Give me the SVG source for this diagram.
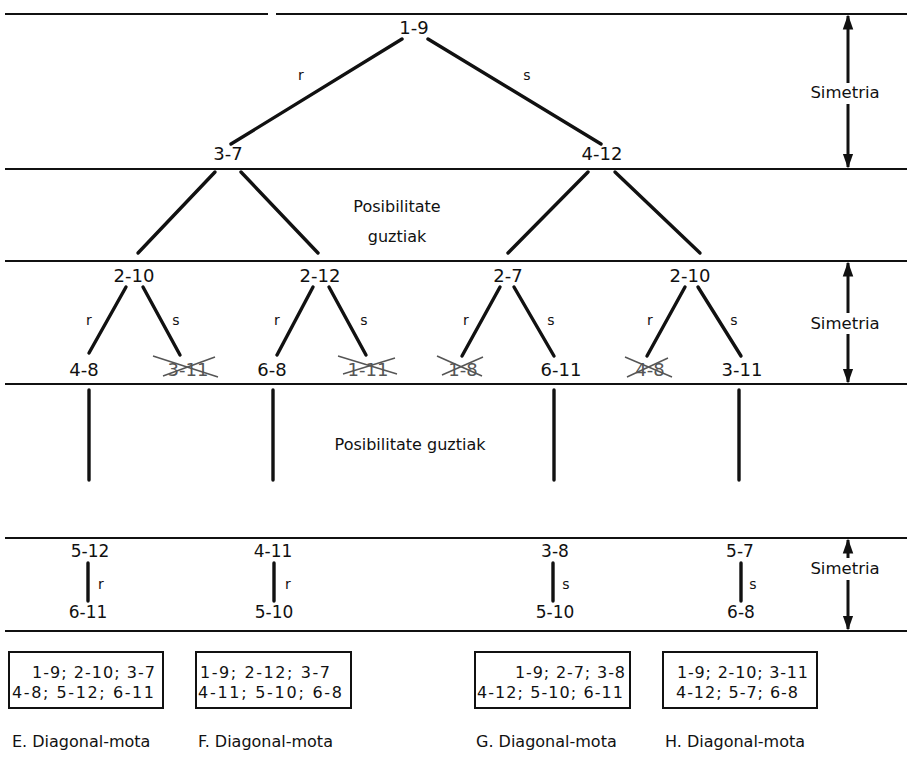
<svg xmlns="http://www.w3.org/2000/svg" width="907" height="759" viewBox="0 0 907 759">
  <style>
    .rule { stroke: #111; stroke-width: 2; }
    .edge { stroke: #111; stroke-width: 3.4; stroke-linecap: round; }
    .arr { stroke: #111; stroke-width: 3; }
    .cross { stroke: #555; stroke-width: 1.4; }
    text { font-family: "DejaVu Sans", "Liberation Sans", Arial, sans-serif; fill: #111; text-anchor: middle; }
    .lbl { font-size: 18px; }
    .br { font-size: 17px; }
    .note { font-size: 16px; }
    .rs { font-size: 14px; }
    .sym { font-size: 16.5px; }
    .box { fill: #fff; stroke: #111; stroke-width: 2; }
    .cap { font-size: 16px; text-anchor: start; }
    .bx { font-size: 16px; text-anchor: start; }
    .gone { fill: #555; }
  </style>
  <defs>
    <marker id="head" viewBox="0 0 10 10" refX="9" refY="5" markerWidth="5" markerHeight="5" orient="auto-start-reverse" markerUnits="strokeWidth">
      <path d="M0,1.5 L10,5 L0,8.5 z" fill="#111"/>
    </marker>
  </defs>
  <rect width="907" height="759" fill="#fff"/>

  <!-- horizontal band rules -->
  <g id="rules">
    <line class="rule" x1="5" y1="14" x2="268" y2="14"/>
    <line class="rule" x1="276" y1="14" x2="907" y2="14"/>
    <line class="rule" x1="5" y1="169" x2="907" y2="169"/>
    <line class="rule" x1="5" y1="261" x2="907" y2="261"/>
    <line class="rule" x1="5" y1="384" x2="907" y2="384"/>
    <line class="rule" x1="5" y1="538" x2="907" y2="538"/>
    <line class="rule" x1="5" y1="631" x2="907" y2="631"/>
  </g>

  <!-- connectors -->
  <g id="connectors">
    <line class="edge" x1="402" y1="39" x2="231" y2="144"/>
    <line class="edge" x1="428" y1="39" x2="601" y2="144"/>
    <line class="edge" x1="215" y1="172" x2="138" y2="253"/>
    <line class="edge" x1="241" y1="172" x2="318" y2="253"/>
    <line class="edge" x1="588" y1="172" x2="508" y2="253"/>
    <line class="edge" x1="615" y1="172" x2="700" y2="253"/>
    <line class="edge" x1="126" y1="287" x2="89" y2="353"/>
    <line class="edge" x1="143" y1="287" x2="180" y2="355"/>
    <line class="edge" x1="313" y1="287" x2="277" y2="355"/>
    <line class="edge" x1="329" y1="287" x2="366" y2="355"/>
    <line class="edge" x1="500" y1="287" x2="462" y2="356"/>
    <line class="edge" x1="514" y1="287" x2="554" y2="356"/>
    <line class="edge" x1="685" y1="287" x2="647" y2="356"/>
    <line class="edge" x1="698" y1="287" x2="741" y2="356"/>
    <line class="edge" x1="89" y1="390" x2="89" y2="480"/>
    <line class="edge" x1="273" y1="390" x2="273" y2="480"/>
    <line class="edge" x1="554" y1="390" x2="554" y2="480"/>
    <line class="edge" x1="739" y1="390" x2="739" y2="480"/>
    <line class="edge" x1="88" y1="563" x2="88" y2="601"/>
    <line class="edge" x1="274" y1="563" x2="274" y2="601"/>
    <line class="edge" x1="553" y1="563" x2="553" y2="601"/>
    <line class="edge" x1="741" y1="563" x2="741" y2="601"/>
  </g>

  <!-- edge labels -->
  <g id="edge-labels">
    <text class="rs" x="301" y="80">r</text>
    <text class="rs" x="527" y="80">s</text>
    <text class="rs" x="89" y="325">r</text>
    <text class="rs" x="176" y="325">s</text>
    <text class="rs" x="277" y="325">r</text>
    <text class="rs" x="364" y="325">s</text>
    <text class="rs" x="466" y="325">r</text>
    <text class="rs" x="551" y="325">s</text>
    <text class="rs" x="650" y="325">r</text>
    <text class="rs" x="734" y="325">s</text>
    <text class="rs" x="101" y="589">r</text>
    <text class="rs" x="288" y="589">r</text>
    <text class="rs" x="566" y="589">s</text>
    <text class="rs" x="753" y="589">s</text>
  </g>

  <!-- symmetry arrows -->
  <g id="sym-top">
    <line class="arr" x1="848" y1="83" x2="848" y2="16" marker-end="url(#head)"/>
    <line class="arr" x1="848" y1="104" x2="848" y2="167" marker-end="url(#head)"/>
    <text class="sym" x="845" y="98">Simetria</text>
  </g>
  <g id="sym-mid">
    <line class="arr" x1="848" y1="313" x2="848" y2="263" marker-end="url(#head)"/>
    <line class="arr" x1="848" y1="334" x2="848" y2="382" marker-end="url(#head)"/>
    <text class="sym" x="845" y="329">Simetria</text>
  </g>
  <g id="sym-low">
    <line class="arr" x1="848" y1="558" x2="848" y2="540" marker-end="url(#head)"/>
    <line class="arr" x1="848" y1="580" x2="848" y2="629" marker-end="url(#head)"/>
    <text class="sym" x="845" y="574">Simetria</text>
  </g>

  <!-- band notes -->
  <g id="note-all-1">
    <text class="note" x="397" y="212">Posibilitate</text>
    <text class="note" x="397" y="242">guztiak</text>
  </g>
  <g id="note-all-2">
    <text class="note" x="410" y="450">Posibilitate guztiak</text>
  </g>

  <!-- tree nodes -->
  <g id="n-1-9"><text class="lbl" x="414" y="34">1-9</text></g>
  <g id="n-3-7"><text class="lbl" x="228" y="160">3-7</text></g>
  <g id="n-4-12"><text class="lbl" x="602" y="160">4-12</text></g>

  <g id="n-2-10a"><text class="lbl" x="134" y="282">2-10</text></g>
  <g id="n-2-12"><text class="lbl" x="320" y="282">2-12</text></g>
  <g id="n-2-7"><text class="lbl" x="508" y="282">2-7</text></g>
  <g id="n-2-10b"><text class="lbl" x="690" y="282">2-10</text></g>

  <g id="n-4-8"><text class="lbl" x="84" y="376">4-8</text></g>
  <g id="n-3-11x">
    <text class="lbl gone" x="188" y="376">3-11</text>
    <line class="cross" x1="153" y1="356" x2="218" y2="377"/>
    <line class="cross" x1="163" y1="376" x2="215" y2="357"/>
  </g>
  <g id="n-6-8"><text class="lbl" x="272" y="376">6-8</text></g>
  <g id="n-1-11x">
    <text class="lbl gone" x="368" y="376">1-11</text>
    <line class="cross" x1="338" y1="356" x2="397" y2="374"/>
    <line class="cross" x1="343" y1="374" x2="395" y2="358"/>
  </g>
  <g id="n-1-8x">
    <text class="lbl gone" x="463" y="376">1-8</text>
    <line class="cross" x1="437" y1="356" x2="482" y2="376"/>
    <line class="cross" x1="442" y1="375" x2="483" y2="357"/>
  </g>
  <g id="n-6-11"><text class="lbl" x="561" y="376">6-11</text></g>
  <g id="n-4-8x">
    <text class="lbl gone" x="650" y="376">4-8</text>
    <line class="cross" x1="625" y1="357" x2="672" y2="377"/>
    <line class="cross" x1="627" y1="377" x2="668" y2="358"/>
  </g>
  <g id="n-3-11"><text class="lbl" x="742" y="376">3-11</text></g>

  <g id="n-5-12"><text class="br" x="90" y="557">5-12</text></g>
  <g id="n-4-11"><text class="br" x="273" y="557">4-11</text></g>
  <g id="n-3-8"><text class="br" x="555" y="557">3-8</text></g>
  <g id="n-5-7"><text class="br" x="740" y="557">5-7</text></g>
  <g id="n-6-11b"><text class="br" x="88" y="618">6-11</text></g>
  <g id="n-5-10a"><text class="br" x="274" y="618">5-10</text></g>
  <g id="n-5-10b"><text class="br" x="555" y="618">5-10</text></g>
  <g id="n-6-8b"><text class="br" x="741" y="618">6-8</text></g>

  <!-- resulting pairings -->
  <g id="box-e">
    <rect class="box" x="9" y="652" width="154" height="56"/>
    <text class="bx" x="32" y="678" textLength="123" lengthAdjust="spacing">1-9; 2-10; 3-7</text>
    <text class="bx" x="12" y="698" textLength="142" lengthAdjust="spacing">4-8; 5-12; 6-11</text>
    <text class="cap" x="12" y="747">E. Diagonal-mota</text>
  </g>
  <g id="box-f">
    <rect class="box" x="196" y="652" width="155" height="56"/>
    <text class="bx" x="200" y="678" textLength="130" lengthAdjust="spacing">1-9; 2-12; 3-7</text>
    <text class="bx" x="198" y="698" textLength="144" lengthAdjust="spacing">4-11; 5-10; 6-8</text>
    <text class="cap" x="198" y="747">F. Diagonal-mota</text>
  </g>
  <g id="box-g">
    <rect class="box" x="475" y="652" width="155" height="56"/>
    <text class="bx" x="515" y="678" textLength="110" lengthAdjust="spacing">1-9; 2-7; 3-8</text>
    <text class="bx" x="477" y="698" textLength="146" lengthAdjust="spacing">4-12; 5-10; 6-11</text>
    <text class="cap" x="476" y="747">G. Diagonal-mota</text>
  </g>
  <g id="box-h">
    <rect class="box" x="663" y="652" width="154" height="56"/>
    <text class="bx" x="677" y="678" textLength="131" lengthAdjust="spacing">1-9; 2-10; 3-11</text>
    <text class="bx" x="676" y="698" textLength="122" lengthAdjust="spacing">4-12; 5-7; 6-8</text>
    <text class="cap" x="665" y="747">H. Diagonal-mota</text>
  </g>
</svg>
